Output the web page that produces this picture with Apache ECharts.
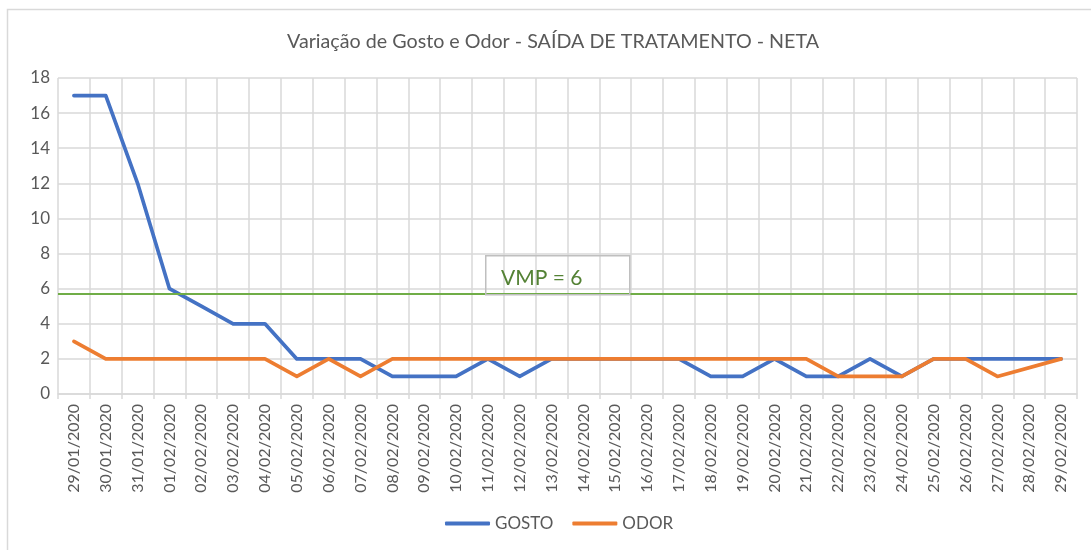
<!DOCTYPE html>
<html>
<head>
<meta charset="utf-8">
<script src="https://cdn.jsdelivr.net/npm/echarts@6/dist/echarts.min.js"></script>
<style>
html,body{margin:0;padding:0;background:#fff;}
#chart{width:1091px;height:550px;}
</style>
</head>
<body>
<div id="chart"></div>
<script>
const titleText = 'Variação de Gosto e Odor - SAÍDA DE TRATAMENTO - NETA';
const categories = ['29/01/2020','30/01/2020','31/01/2020','01/02/2020','02/02/2020','03/02/2020','04/02/2020','05/02/2020','06/02/2020','07/02/2020','08/02/2020','09/02/2020','10/02/2020','11/02/2020','12/02/2020','13/02/2020','14/02/2020','15/02/2020','16/02/2020','17/02/2020','18/02/2020','19/02/2020','20/02/2020','21/02/2020','22/02/2020','23/02/2020','24/02/2020','25/02/2020','26/02/2020','27/02/2020','28/02/2020','29/02/2020'];
const gosto = [17,17,12,6,5,4,4,2,2,2,1,1,1,2,1,2,2,2,2,2,1,1,2,1,1,2,1,2,2,2,2,2];
const odor  = [3,2,2,2,2,2,2,1,2,1,2,2,2,2,2,2,2,2,2,2,2,2,2,2,1,1,1,2,2,1,null,2];
const vmpLineValue = 5.7;
const vmpLabel = 'VMP = 6';
const yTicks = {min:0, max:18, interval:2};

const FONT = 'Lato';
const grey = '#595959';
const gridColor = '#D9D9D9';

const chart = echarts.init(document.getElementById('chart'), null, {renderer:'canvas'});
chart.setOption({
  animation:false,
  backgroundColor:'#fff',
  title:{
    text:titleText, left:282, top:27,
    textStyle:{fontFamily:FONT, fontSize:19.7, fontWeight:'normal', color:grey}
  },
  legend:{
    bottom:13, left:440,
    data:['GOSTO','ODOR'],
    itemWidth:45, itemHeight:4, itemGap:19,
    icon:'roundRect',
    textStyle:{fontFamily:FONT, fontSize:17, color:grey}
  },
  grid:{left:58, right:14, top:78, bottom:156, containLabel:false},
  xAxis:{
    type:'category', data:categories, boundaryGap:true,
    axisLine:{show:true, lineStyle:{color:gridColor, width:1.5}},
    axisTick:{show:true, length:5, lineStyle:{color:gridColor, width:1.5}},
    splitLine:{show:true, lineStyle:{color:gridColor, width:1.5}},
    axisLabel:{rotate:90, interval:0, fontFamily:FONT, fontSize:16, color:grey, margin:10}
  },
  yAxis:{
    type:'value', min:yTicks.min, max:yTicks.max, interval:yTicks.interval,
    axisLine:{show:false}, axisTick:{show:false},
    splitLine:{show:true, lineStyle:{color:gridColor, width:1.5}},
    axisLabel:{fontFamily:FONT, fontSize:17, color:grey, margin:8}
  },
  series:[
    {name:'GOSTO', type:'line', data:gosto, symbol:'none', smooth:false,
     lineStyle:{color:'#4472C4', width:3.7, cap:'round', join:'round'}, itemStyle:{color:'#4472C4'},
     markLine:{silent:true, symbol:'none', label:{show:false},
       lineStyle:{color:'#70AD47', width:2, type:'solid'},
       data:[{yAxis:vmpLineValue}]}
    },
    {name:'ODOR', type:'line', data:odor, symbol:'none', connectNulls:true,
     lineStyle:{color:'#ED7D31', width:3.7, cap:'round', join:'round'}, itemStyle:{color:'#ED7D31'}}
  ],
  graphic:[
    {type:'rect', left:5, top:7, shape:{width:1100, height:560},
     style:{fill:'none', stroke:gridColor, lineWidth:1.5}, z:-10},
    {type:'rect', left:485, top:255, shape:{width:144, height:39},
     style:{fill:'rgba(255,255,255,0)', stroke:'#BFBFBF', lineWidth:1.5}, z:10},
    {type:'text', left:501, top:268,
     style:{text:vmpLabel, fontFamily:FONT, fontSize:21, fill:'#548235'}, z:11}
  ]
});
</script>
</body>
</html>
